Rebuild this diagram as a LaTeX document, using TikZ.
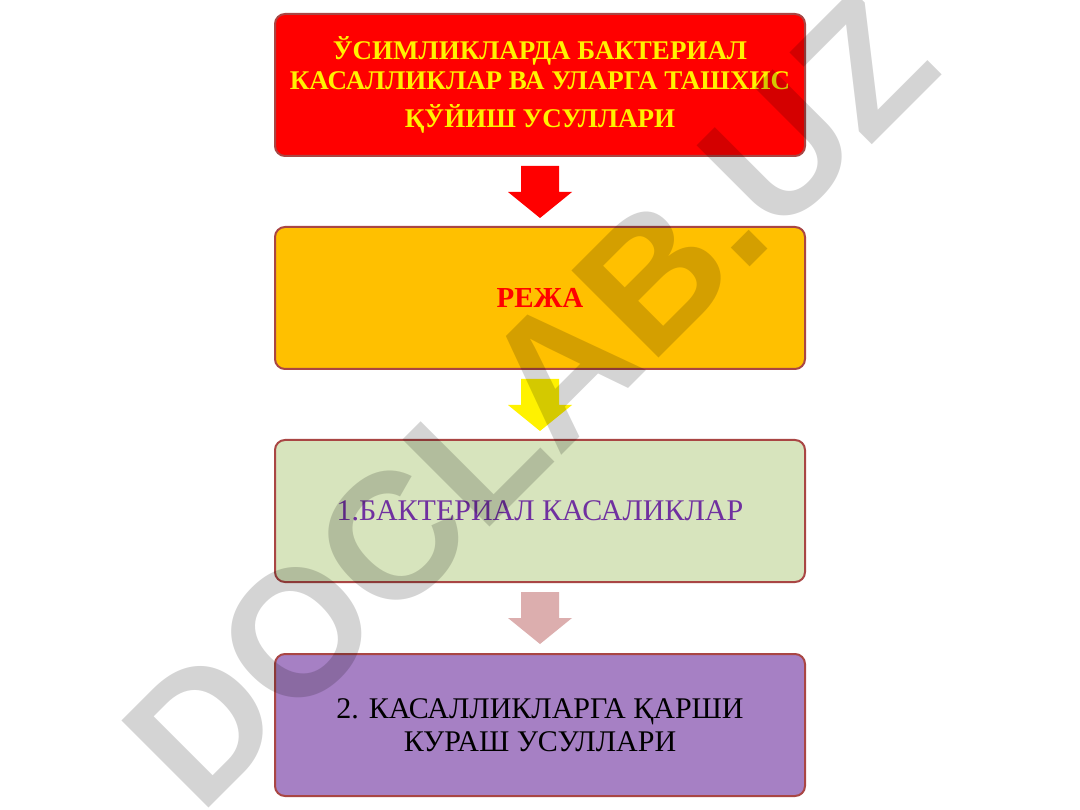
\documentclass[tikz,border=0pt]{standalone}
\usepackage{fontspec}
\setmainfont{Liberation Serif}
\newfontfamily\markfont{Liberation Sans}
\usetikzlibrary{positioning,calc}
\definecolor{boxline}{HTML}{A94644}
\definecolor{topred}{HTML}{FF0000}
\definecolor{planbox}{HTML}{FFC000}
\definecolor{greenbox}{HTML}{D7E4BD}
\definecolor{violetbox}{HTML}{A680C4}
\definecolor{pinkarrow}{HTML}{DCAEAE}
\definecolor{violettext}{HTML}{7030A0}
\tikzset{
  stage/.style={draw=boxline, line width=2pt, rounded corners=10pt,
    minimum width=530pt, minimum height=142pt, align=center, inner sep=0pt},
}
% block arrow under a node: #1 node, #2 colour
\newcommand{\downarrowbox}[2]{%
  \fill[#2] ($(#1.south)+(-19,9)$) -- ++(38,0) -- ++(0,26) -- ++(13,0)
    -- ($(#1.south)+(0,61)$) -- ($(#1.south)+(-32,35)$) -- ++(13,0) -- cycle;}

\begin{document}
\begin{tikzpicture}[x=1pt,y=-1pt]
\fill[white] (0,0) rectangle (1080,810);
\useasboundingbox (0,0) rectangle (1080,810);
\node[stage, fill=topred, text=yellow, font=\bfseries\fontsize{27}{30}\selectfont] (title) at (540,85)
  {ЎСИМЛИКЛАРДА БАКТЕРИАЛ\\КАСАЛЛИКЛАР ВА УЛАРГА ТАШХИС\\[8pt]ҚЎЙИШ УСУЛЛАРИ};
\node[stage, fill=planbox, text=red, font=\bfseries\fontsize{29}{33}\selectfont, below=69pt of title] (plan) {РЕЖА};
\node[stage, fill=greenbox, text=violettext, font=\fontsize{30}{33}\selectfont, below=69pt of plan] (first) {1.БАКТЕРИАЛ КАСАЛИКЛАР};
\node[stage, fill=violetbox, font=\fontsize{30}{33}\selectfont, below=70pt of first] (second)
  {2. КАСАЛЛИКЛАРГА ҚАРШИ\\КУРАШ УСУЛЛАРИ};
\downarrowbox{title}{red}
\downarrowbox{plan}{yellow}
\downarrowbox{first}{pinkarrow}
% watermark
\node[rotate=45, anchor=base west, inner sep=0pt, text=black, opacity=.17,
  font=\markfont\bfseries\fontsize{179}{179}\selectfont] (mark) at (200,817) {DOCLAB.UZ};
\end{tikzpicture}
\end{document}
